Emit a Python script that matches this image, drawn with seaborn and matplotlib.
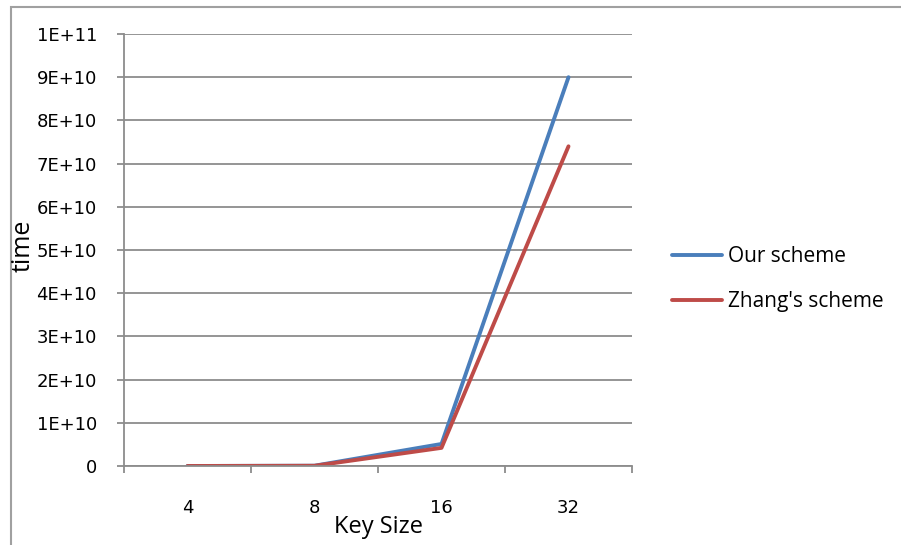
import matplotlib
matplotlib.use("Agg")
import matplotlib.pyplot as plt
from matplotlib.patches import Rectangle
from matplotlib.lines import Line2D
from matplotlib.ticker import FixedLocator
import seaborn as sns
import pandas as pd

# Key sizes and measured running times
key_sizes = ["4", "8", "16", "32"]
our_scheme = [2.0e6, 6.5e7, 5.1e9, 9.0e10]
zhang_scheme = [1.5e6, 5.0e7, 4.2e9, 7.4e10]
series_names = ["Our scheme", "Zhang's scheme"]
y_ticks = [i * 1e10 for i in range(11)]
y_tick_labels = ["0"] + [f"{i}E+10" for i in range(1, 10)] + ["1E+11"]

df = pd.DataFrame({
    "Key Size": key_sizes * 2,
    "time": our_scheme + zhang_scheme,
    "scheme": [series_names[0]] * 4 + [series_names[1]] * 4,
})

sns.set_theme(style="white")
plt.rcParams["font.family"] = ["Open Sans", "DejaVu Sans"]

W, H = 901, 545
fig = plt.figure(figsize=(W / 100, H / 100), dpi=100)
ax = fig.add_axes([124 / W, (H - 466) / H, (632 - 124) / W, (466 - 34) / H])

# outer chart border (runs off the right and bottom edges)
fig.patches.append(Rectangle((11 / W, -0.1), 1.2, (H - 7) / H + 0.1,
                             transform=fig.transFigure, fill=False,
                             edgecolor="#a0a0a0", linewidth=1.5))

palette = {series_names[0]: "#4a7ebb", series_names[1]: "#be4b48"}
sns.lineplot(data=df, x="Key Size", y="time", hue="scheme", palette=palette,
             linewidth=2.8, sort=False, ax=ax, legend=False)

grid_c = "#8c8c8c"
ax.set_xlim(-0.5, 3.5)
ax.set_ylim(0, 1e11)
ax.yaxis.set_major_locator(FixedLocator(y_ticks))
ax.set_yticklabels(y_tick_labels, family="DejaVu Sans", fontsize=13)
ax.yaxis.grid(True, color=grid_c, linewidth=1.3)
ax.set_axisbelow(True)
for s in ["top", "right"]:
    ax.spines[s].set_visible(False)
for s in ["left", "bottom"]:
    ax.spines[s].set_color(grid_c)
    ax.spines[s].set_linewidth(1.3)

ax.set_xticks(range(len(key_sizes)))
ax.set_xticklabels(key_sizes, family="DejaVu Sans", fontsize=13)
ax.set_xticks([i - 0.5 for i in range(len(key_sizes) + 1)], minor=True)
ax.tick_params(axis="x", which="major", length=0, pad=24, colors="black")
ax.tick_params(axis="x", which="minor", length=5, width=1.3, color=grid_c,
               direction="out", bottom=True)
ax.tick_params(axis="y", which="major", length=5, width=1.3, color=grid_c,
               direction="out", pad=14.5, labelcolor="black", left=True)

ax.set_xlabel("")
ax.set_ylabel("")
fig.text(379 / W, 1 - 527 / H, "Key Size", fontsize=17, ha="center",
         va="center", color="black")
fig.text(23 / W, 1 - 246 / H, "time", rotation=90, fontsize=18,
         ha="center", va="center", color="black")

# legend drawn on the right of the plot area
for name, yl in zip(series_names, [255, 300]):
    fig.lines.append(Line2D([672 / W, 722 / W], [1 - yl / H, 1 - yl / H],
                            transform=fig.transFigure, color=palette[name],
                            linewidth=2.8))
    fig.text(728 / W, 1 - (yl + 1) / H, name, fontsize=15, ha="left",
             va="center", color="black")

fig.savefig("out.png", dpi=100, facecolor="white")
